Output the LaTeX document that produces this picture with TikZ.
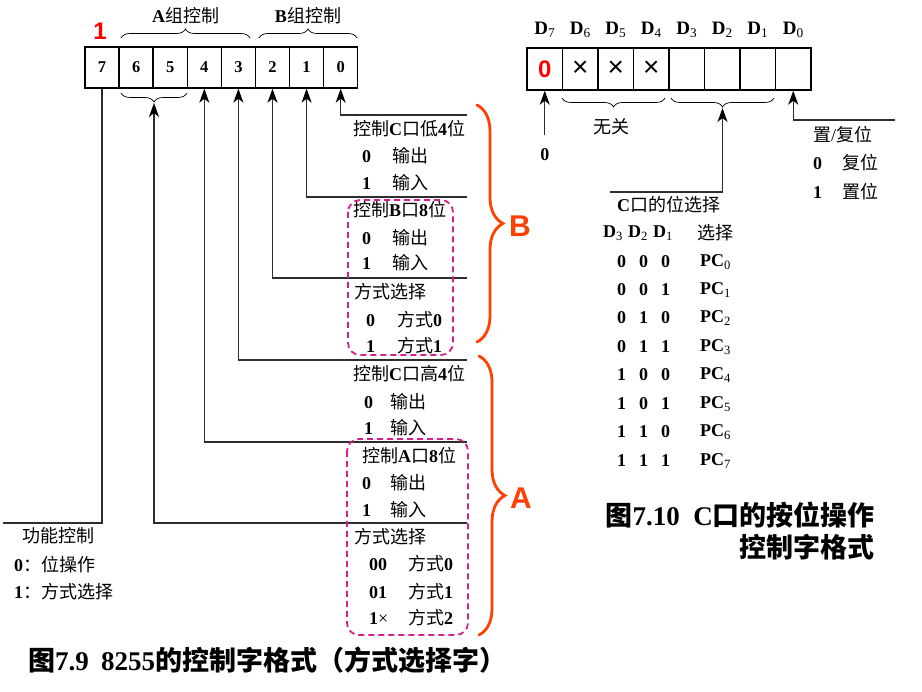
\documentclass[tikz,border=0pt]{standalone}
\usepackage{fontspec}
\setmainfont{Liberation Serif}
\newfontfamily\cjk{Noto Sans CJK SC}
\newfontfamily\sansf{Liberation Sans}
\usetikzlibrary{arrows.meta,decorations.pathreplacing}
\newcommand\zh[1]{{\cjk\mdseries #1}}
\newcommand\zhb[1]{{\cjk\bfseries #1}}
\definecolor{braceC}{RGB}{255,64,0}
\definecolor{magC}{RGB}{214,30,140}
\definecolor{lineC}{RGB}{45,45,45}
\begin{document}
\begin{tikzpicture}[x=1pt,y=-1pt,
 lbl/.style={font=\fontsize{18}{20}\selectfont\bfseries, inner sep=0, text=black},
 dlbl/.style={font=\fontsize{19}{21}\selectfont\bfseries, inner sep=0},
 cell/.style={draw, line width=1.4pt, minimum width=34.09pt, minimum height=41pt, inner sep=0, font=\fontsize{16.5}{18}\selectfont\bfseries},
 rcell/.style={draw, line width=1.4pt, minimum width=35.5pt, minimum height=42pt, inner sep=0},
 conn/.style={draw=lineC, line width=1.2pt},
 arr/.style={conn, -{Stealth[length=14pt,width=10pt,inset=4pt,color=black]}},
 sbrace/.style={draw, line width=0.7pt, decorate, decoration={brace, amplitude=9pt}},
 bbrace/.style={draw=braceC, line width=2.8pt, line cap=round, decorate, decoration={brace, amplitude=26pt}},
 dbox/.style={draw=magC, line width=1.8pt, dash pattern=on 6pt off 4pt, rounded corners=12pt},
 big/.style={font=\fontsize{30}{32}\selectfont\sansf\bfseries, text=braceC, inner sep=0},
 captxt/.style={font=\fontsize{27}{29}\selectfont\bfseries, inner sep=0},
]
\useasboundingbox (0,0) rectangle (922,692);

% ---------- left: control word cells
\foreach \b [count=\i from 0] in {7,6,5,4,3,2,1,0}
  \node[cell] (b\b) at ({85+34.09*(\i+0.5)},67.5) {\b};
\node[font=\fontsize{24}{26}\selectfont\sansf\bfseries, text=red, inner sep=0] (one) at (100,31) {1};

\draw[sbrace] (121,38) -- (250,38);
\draw[sbrace] (259,38) -- (357,38);
\node[lbl] (ga) at (185.5,16) {A\zh{组控制}};
\node[lbl] (gb) at (308,16) {B\zh{组控制}};
\draw[sbrace] (187,93) -- (121,93);
\coordinate (t65) at (154,103);

\coordinate (c0) at (467,115);
\coordinate (c1) at (467,197);
\coordinate (c2) at (467,278);
\coordinate (c3) at (467,360);
\coordinate (c4) at (467,442);
\coordinate (c65) at (467,523);
\coordinate (c7) at (3,523);
\draw[arr] (c0) -| (b0.south);
\draw[arr] (c1) -| (b1.south);
\draw[arr] (c2) -| (b2.south);
\draw[arr] (c3) -| (b3.south);
\draw[arr] (c4) -| (b4.south);
\draw[arr] (c65) -| (t65);
\draw[conn] (b7.south) |- (c7);

% B group texts
\node[lbl,anchor=west] (l1) at (353,129) {\zh{控制}C\zh{口低}4\zh{位}};
\node[lbl,anchor=west] (l2) at (362,156) {\makebox[30pt][l]{0}\zh{输出}};
\node[lbl,anchor=west] (l3) at (362,183) {\makebox[30pt][l]{1}\zh{输入}};
\node[lbl,anchor=west] (l4) at (353,210) {\zh{控制}B\zh{口}8\zh{位}};
\node[lbl,anchor=west] (l5) at (362,238) {\makebox[30pt][l]{0}\zh{输出}};
\node[lbl,anchor=west] (l6) at (362,263) {\makebox[30pt][l]{1}\zh{输入}};
\node[lbl,anchor=west] (l7) at (354,292) {\zh{方式选择}};
\node[lbl,anchor=west] (l8) at (366,320) {\makebox[31pt][l]{0}\zh{方式}0};
\node[lbl,anchor=west] (l9) at (366,346) {\makebox[31pt][l]{1}\zh{方式}1};

% A group texts
\node[lbl,anchor=west] (m1) at (353,374) {\zh{控制}C\zh{口高}4\zh{位}};
\node[lbl,anchor=west] (m2) at (364,402) {\makebox[26pt][l]{0}\zh{输出}};
\node[lbl,anchor=west] (m3) at (364,428) {\makebox[26pt][l]{1}\zh{输入}};
\node[lbl,anchor=west] (m4) at (362,456) {\zh{控制}A\zh{口}8\zh{位}};
\node[lbl,anchor=west] (m5) at (362,483) {\makebox[28pt][l]{0}\zh{输出}};
\node[lbl,anchor=west] (m6) at (362,510) {\makebox[28pt][l]{1}\zh{输入}};
\node[lbl,anchor=west] (m7) at (354,537) {\zh{方式选择}};
\node[lbl,anchor=west] (m8) at (369,564) {\makebox[39pt][l]{00}\zh{方式}0};
\node[lbl,anchor=west] (m9) at (369,592) {\makebox[39pt][l]{01}\zh{方式}1};
\node[lbl,anchor=west] (m10) at (369,618) {\makebox[39pt][l]{1{\mdseries ×}}\zh{方式}2};

% dashed boxes and braces
\draw[dbox] (348,200) rectangle (453,355);
\draw[dbox] (347,439) rectangle (468,635);
\draw[bbrace] (477,105) -- (477,342);
\draw[bbrace] (479,356) -- (479,635);
\node[big] (bigB) at (520,226) {B};
\node[big] (bigA) at (521,498) {A};

% function control
\node[lbl,anchor=west] (f1) at (22,536) {\zh{功能控制}};
\node[lbl,anchor=west] (f2) at (14,565) {0\zh{：位操作}};
\node[lbl,anchor=west] (f3) at (14,592) {1\zh{：方式选择}};
\node[captxt,anchor=west] (cap1) at (28,660) {\zhb{图}7.9\hspace{0.45em}8255\zhb{的控制字格式（方式选择字）}};

% ---------- right: bit set/reset word
\node[rcell, font=\fontsize{24}{26}\selectfont\sansf\bfseries, text=red] (r7) at (544.75,69) {0};
\node[rcell, font=\fontsize{28}{30}\selectfont\sansf] (r6) at (580.25,69) {×};
\node[rcell, font=\fontsize{28}{30}\selectfont\sansf] (r5) at (615.75,69) {×};
\node[rcell, font=\fontsize{28}{30}\selectfont\sansf] (r4) at (651.25,69) {×};
\node[rcell] (r3) at (686.75,69) {};
\node[rcell] (r2) at (722.25,69) {};
\node[rcell] (r1) at (757.75,69) {};
\node[rcell] (r0) at (793.25,69) {};
\foreach \b [count=\i from 0] in {7,6,5,4,3,2,1,0}
  \node[dlbl] (d\b) at ({527+35.5*(\i+0.5)},30) {D\textsubscript{\mdseries\b}};

\draw[sbrace] (665,98) -- (562,98);
\draw[sbrace] (774,98) -- (671,98);
\node[lbl] (wg) at (611,127) {\zh{无关}};

\coordinate (z7) at (544.75,135);
\draw[arr] (z7) -- (r7.south);
\node[lbl] (zero) at (544.75,155) {0};
\coordinate (zs) at (610,192);
\coordinate (ts) at (722.5,108);
\draw[arr] (zs) -| (ts);
\coordinate (z0) at (895,120);
\draw[arr] (z0) -| (r0.south);

\node[lbl,anchor=west] (s1) at (813,135) {\zh{置}{\mdseries /}\zh{复位}};
\node[lbl,anchor=west] (s2) at (813,163) {\makebox[29pt][l]{0}\zh{复位}};
\node[lbl,anchor=west] (s3) at (813,192) {\makebox[29pt][l]{1}\zh{置位}};

\node[lbl,anchor=west] (p0) at (617,205) {C\zh{口的位选择}};
\node[lbl,anchor=west] (ph) at (603,233) {\makebox[25pt][l]{D\textsubscript{\mdseries 3}}\makebox[25pt][l]{D\textsubscript{\mdseries 2}}D\textsubscript{\mdseries 1}};
\node[lbl,anchor=west] (ph2) at (697,233) {\zh{选择}};
\foreach \v/\n/\y in {0\hspace{13pt}0\hspace{13pt}0/0/262, 0\hspace{13pt}0\hspace{13pt}1/1/290, 0\hspace{13pt}1\hspace{13pt}0/2/318, 0\hspace{13pt}1\hspace{13pt}1/3/347, 1\hspace{13pt}0\hspace{13pt}0/4/375, 1\hspace{13pt}0\hspace{13pt}1/5/404, 1\hspace{13pt}1\hspace{13pt}0/6/432, 1\hspace{13pt}1\hspace{13pt}1/7/461}{
  \node[lbl,anchor=west] (q\n) at (617,\y) {\v};
  \node[lbl,anchor=west] (pc\n) at (700,\y) {PC\textsubscript{\mdseries\n}};
}
\node[captxt,anchor=east] (cap2) at (875,515) {\zhb{图}7.10\hspace{0.5em}C\zhb{口的按位操作}};
\node[captxt,anchor=east] (cap3) at (875,547) {\zhb{控制字格式}};
\end{tikzpicture}
\end{document}
